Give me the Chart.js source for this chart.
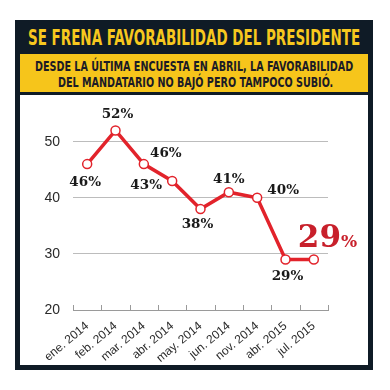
<!DOCTYPE html>
<html>
<head>
<meta charset="utf-8">
<script src="https://cdn.jsdelivr.net/npm/chart.js@4"></script>
<style>
  body { margin: 0; width: 390px; height: 390px; background: #fff; position: relative; overflow: hidden; }
  #frame { position: absolute; left: 15px; top: 20px; width: 358px; height: 350px; background: #0f1b26; }
  #caja { position: absolute; left: 20px; top: 54px; width: 348px; height: 38px; background: #f6c51b; }
  #panel { position: absolute; left: 20px; top: 95px; width: 348px; height: 270px; background: #fff; }
  .linea { position: absolute; white-space: nowrap; transform-origin: 0 0;
           font-family: "DejaVu Sans Condensed", "DejaVu Sans", sans-serif; font-weight: bold; }
  #titulo { color: #f7c81e; font-size: 22px; }
  .sub { color: #1b1b26; font-size: 14px; }
  canvas { position: absolute; left: 0; top: 0; }
</style>
</head>
<body>
<div id="frame"></div>
<div id="caja"></div>
<div id="panel"></div>
<span class="linea" id="titulo" data-x="28" data-y="25" data-w="332">SE FRENA FAVORABILIDAD DEL PRESIDENTE</span>
<span class="linea sub" data-x="35" data-y="58" data-w="318">DESDE LA ÚLTIMA ENCUESTA EN ABRIL, LA FAVORABILIDAD</span>
<span class="linea sub" data-x="58" data-y="74" data-w="275">DEL MANDATARIO NO BAJÓ PERO TAMPOCO SUBIÓ.</span>
<canvas id="grafica" width="390" height="390"></canvas>
<script>
// datos
var categorias = ['ene. 2014', 'feb. 2014', 'mar. 2014', 'abr. 2014', 'may. 2014', 'jun. 2014', 'nov. 2014', 'abr. 2015', 'jul. 2015'];
var favorabilidad = [46, 52, 46, 43, 38, 41, 40, 29, 29];
var etiquetas = ['46%', '52%', '46%', '43%', '38%', '41%', '40%', '29%', ''];
var ticksY = [20, 30, 40, 50];
var ultimo = '29';

// donde va cada etiqueta respecto al punto
var desplaza = [[-2, 18], [2, -16], [22, -11], [-26, 5], [-3, 15], [0, -13], [26, -7], [2, 17], [0, 0]];

// ajustar el ancho de los textos del encabezado
var lineas = document.querySelectorAll('.linea');
for (var i = 0; i < lineas.length; i++) {
  var l = lineas[i];
  l.style.left = l.dataset.x + 'px';
  l.style.top = l.dataset.y + 'px';
  l.style.transform = 'scaleX(' + (l.dataset.w / l.offsetWidth) + ')';
}

var rojo = '#e2232b';

var marcas = {
  id: 'marcas',
  afterDatasetsDraw: function(chart) {
    var ctx = chart.ctx;
    var area = chart.chartArea;
    var pts = chart.getDatasetMeta(0).data;
    ctx.save();
    // rayitas del eje x hacia arriba
    ctx.strokeStyle = '#9a9a9a';
    ctx.lineWidth = 1;
    var paso = (area.right - area.left) / categorias.length;
    for (var k = 0; k <= categorias.length; k++) {
      var x = Math.round(area.left + k * paso) + 0.5;
      ctx.beginPath();
      ctx.moveTo(x, area.bottom);
      ctx.lineTo(x, area.bottom - 5);
      ctx.stroke();
    }
    // etiquetas de porcentaje
    ctx.fillStyle = '#1a1a1a';
    ctx.font = 'bold 13.5px "DejaVu Serif", serif';
    ctx.textAlign = 'center';
    ctx.textBaseline = 'middle';
    for (var j = 0; j < pts.length; j++) {
      if (!etiquetas[j]) continue;
      ctx.fillText(etiquetas[j], pts[j].x + desplaza[j][0], pts[j].y + desplaza[j][1]);
    }
    // el 29% grande
    var p = pts[pts.length - 1];
    ctx.fillStyle = '#c8202b';
    ctx.textAlign = 'left';
    ctx.textBaseline = 'alphabetic';
    ctx.font = 'bold 31px "DejaVu Serif", serif';
    var x0 = p.x - 16, y0 = p.y - 13;
    ctx.fillText(ultimo, x0, y0);
    var w = ctx.measureText(ultimo).width;
    ctx.font = 'bold 17px "DejaVu Serif", serif';
    ctx.fillText('%', x0 + w, y0);
    ctx.restore();
  }
};

new Chart(document.getElementById('grafica'), {
  type: 'line',
  data: {
    labels: categorias,
    datasets: [{
      data: favorabilidad,
      borderColor: rojo,
      borderWidth: 3.5,
      pointRadius: 4.5,
      pointBackgroundColor: '#fff',
      pointBorderColor: rojo,
      pointBorderWidth: 1.5,
      tension: 0
    }]
  },
  options: {
    responsive: false,
    animation: false,
    layout: { padding: { left: 44, top: 108, right: 62, bottom: 0 } },
    plugins: { legend: { display: false }, tooltip: { enabled: false } },
    scales: {
      x: {
        offset: true,
        grid: { display: false },
        border: { display: true, color: '#9a9a9a', width: 1 },
        ticks: {
          color: '#2a2a2a',
          font: { family: '"Liberation Sans", Arial, sans-serif', size: 12 },
          minRotation: 40, maxRotation: 40, padding: 1
        },
        afterFit: function(s) { s.height = 80; }
      },
      y: {
        min: 20, max: 56,
        afterBuildTicks: function(s) { s.ticks = ticksY.map(function(v) { return { value: v }; }); },
        grid: { color: '#bcbcbc', drawTicks: false },
        border: { display: false },
        ticks: {
          color: '#2a2a2a',
          padding: 13,
          font: { family: '"Liberation Sans", Arial, sans-serif', size: 14 }
        },
        afterFit: function(s) { s.width = 29; }
      }
    }
  },
  plugins: [marcas]
});
</script>
</body>
</html>
